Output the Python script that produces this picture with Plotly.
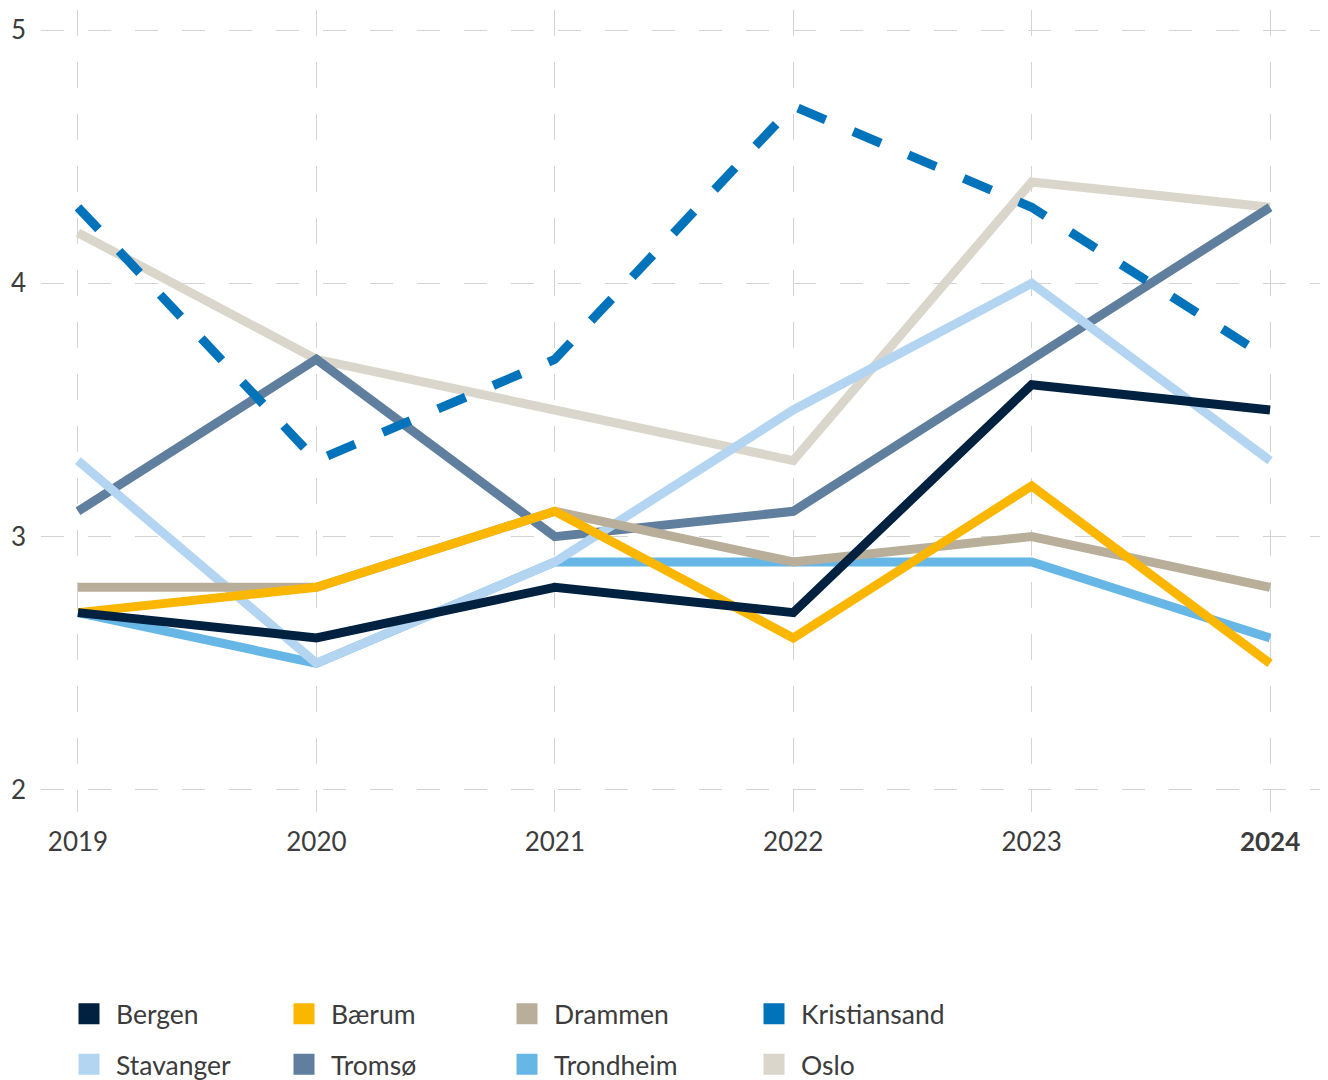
import plotly.graph_objects as go

years = [2019, 2020, 2021, 2022, 2023, 2024]
year_labels = ["2019", "2020", "2021", "2022", "2023", "<b>2024</b>"]
y_ticks = [2, 3, 4, 5]

cities = ["Bergen", "Bærum", "Drammen", "Kristiansand", "Stavanger", "Tromsø", "Trondheim", "Oslo"]
bergen = [2.7, 2.6, 2.8, 2.7, 3.6, 3.5]
baerum = [2.7, 2.8, 3.1, 2.6, 3.2, 2.5]
drammen = [2.8, 2.8, 3.1, 2.9, 3.0, 2.8]
kristiansand = [4.3, 3.3, 3.7, 4.7, 4.3, 3.7]
stavanger = [3.3, 2.5, 2.9, 3.5, 4.0, 3.3]
tromso = [3.1, 3.7, 3.0, 3.1, 3.7, 4.3]
trondheim = [2.7, 2.5, 2.9, 2.9, 2.9, 2.6]
oslo = [4.2, 3.7, 3.5, 3.3, 4.4, 4.3]

values = [bergen, baerum, drammen, kristiansand, stavanger, tromso, trondheim, oslo]
colors = ["#00213F", "#FBB600", "#B9AE9A", "#0073BA", "#B3D5F2", "#607E9D", "#67B7E6", "#DAD6CC"]
dashes = ["solid", "solid", "solid", "30px,30px", "solid", "solid", "solid", "solid"]

# the page adds an 8px body margin, so the figure is 8px smaller than the window
W, H = 1320, 1072
OFF = 8
TEXT = "#3C3C3C"
FONT = "Lato"

fig = go.Figure()

# draw in reverse so Bergen ends up on top
for i in reversed(range(len(cities))):
    fig.add_trace(go.Scatter(
        x=years, y=values[i], mode="lines", name=cities[i],
        line=dict(color=colors[i], width=9, dash=dashes[i]),
        showlegend=False, hoverinfo="x+y+name",
    ))

# legend columns (4 legends, 2 rows each)
legend_ids = ["legend", "legend2", "legend3", "legend4"]
for i in range(len(cities)):
    col = i % 4
    fig.add_trace(go.Scatter(
        x=[None], y=[None], mode="markers", name=cities[i],
        marker=dict(symbol="square", size=16, color=colors[i],
                    line=dict(color=colors[i], width=5)),
        legend=legend_ids[col], legendgroup=cities[i], showlegend=True,
    ))

col_x = [78, 293, 516, 763]
legend_common = dict(
    orientation="v", xref="container", yref="container",
    xanchor="left", yanchor="top", font=dict(family=FONT, size=26.5, color=TEXT),
    bgcolor="rgba(0,0,0,0)", borderwidth=0, itemwidth=44, tracegroupgap=13,
    traceorder="grouped",
)
legends = {}
for k, lid in enumerate(legend_ids):
    legends[lid] = dict(legend_common, x=(col_x[k] - 16 - OFF) / W, y=1 - (990 - OFF) / H)

fig.update_layout(
    width=W, height=H,
    margin=dict(l=41 - OFF, r=0, t=10 - OFF, b=268, pad=0, autoexpand=False),
    paper_bgcolor="white", plot_bgcolor="white",
    font=dict(family=FONT, size=26, color=TEXT),
    xaxis=dict(
        range=[2018.845, 2024.243], tickmode="array", tickvals=years, ticktext=year_labels,
        showgrid=True, gridcolor="#D3D3D3", gridwidth=1, griddash="26px,26px",
        zeroline=False, showline=False, ticks="", ticklabelstandoff=12,
        tickangle=0, automargin=False,
        tickfont=dict(family=FONT, size=26, color=TEXT), fixedrange=True,
    ),
    yaxis=dict(
        range=[1.913, 5.079], tickmode="array", tickvals=y_ticks,
        showgrid=True, gridcolor="#D3D3D3", gridwidth=1, griddash="23px,24px",
        zeroline=False, showline=False, ticks="", ticklabelstandoff=14,
        automargin=False,
        tickfont=dict(family=FONT, size=26, color=TEXT), fixedrange=True,
    ),
    showlegend=True,
    **legends,
)

fig.write_html("out.html")
